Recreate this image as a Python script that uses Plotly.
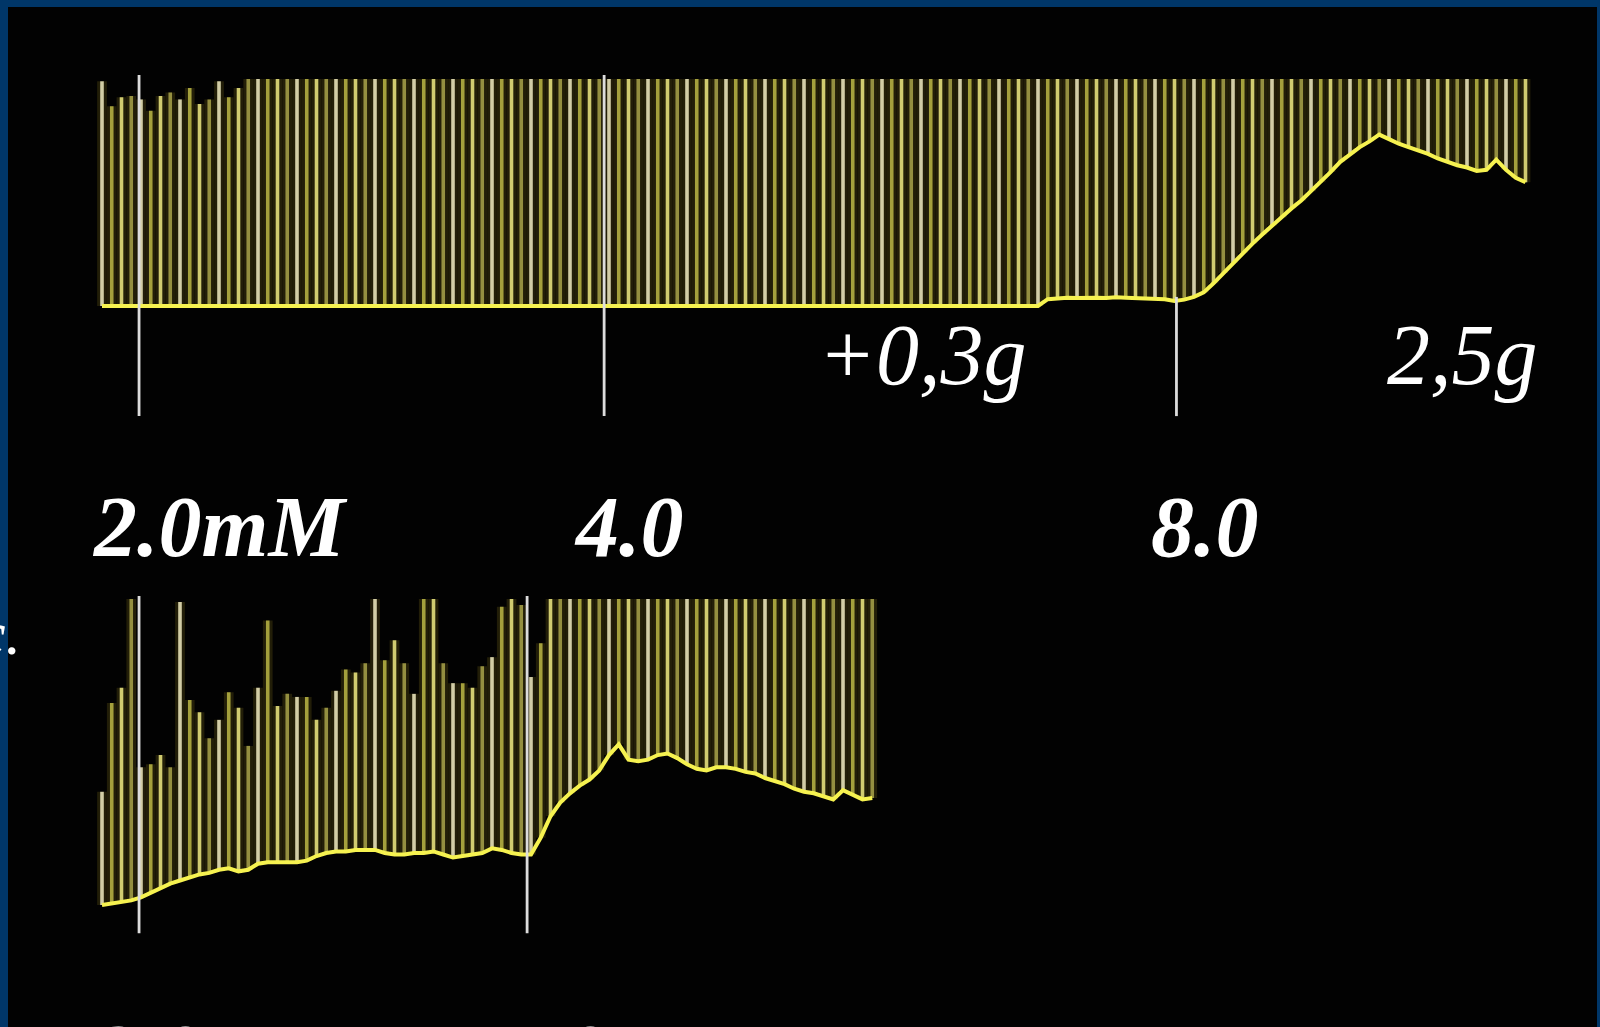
import plotly.graph_objects as go

# ---------------- data ----------------
# Top record: twitch peaks (pen saturates at 100) and resting tension (baseline)
top_peak = [
    99, 88, 92, 92.5, 91, 86, 92.5, 94, 91, 96, 89, 91, 99, 92, 96,
    100, 100, 100, 100, 100, 100, 100, 100, 100, 100, 100, 100,
    100, 100, 100, 100, 100, 100, 100, 100, 100, 100, 100, 100,
    100, 100, 100, 100, 100, 100, 100, 100, 100, 100, 100, 100,
    100, 100, 100, 100, 100, 100, 100, 100, 100, 100, 100, 100,
    100, 100, 100, 100, 100, 100, 100, 100, 100, 100, 100, 100,
    100, 100, 100, 100, 100, 100, 100, 100, 100, 100, 100, 100,
    100, 100, 100, 100, 100, 100, 100, 100, 100, 100, 100, 100,
    100, 100, 100, 100, 100, 100, 100, 100, 100, 100, 100, 100,
    100, 100, 100, 100, 100, 100, 100, 100, 100, 100, 100, 100,
    100, 100, 100, 100, 100, 100, 100, 100, 100, 100, 100, 100,
    100, 100, 100, 100, 100, 100, 100, 100, 100, 100, 100, 100,
]
top_base = [
    0, 0, 0, 0, 0, 0, 0, 0, 0, 0,
    0, 0, 0, 0, 0, 0, 0, 0, 0, 0,
    0, 0, 0, 0, 0, 0, 0, 0, 0, 0,
    0, 0, 0, 0, 0, 0, 0, 0, 0, 0,
    0, 0, 0, 0, 0, 0, 0, 0, 0, 0,
    0, 0, 0, 0, 0, 0, 0, 0, 0, 0,
    0, 0, 0, 0, 0, 0, 0, 0, 0, 0,
    0, 0, 0, 0, 0, 0, 0, 0, 0, 0,
    0, 0, 0, 0, 0, 0, 0, 0, 0, 0,
    0, 0, 0, 0, 0, 0, 0,
    3.0, 3.5, 3.6, 3.5, 3.7, 3.6, 3.5, 3.8, 3.6, 3.5,
    3.4, 3.5, 3.0, 2.2, 2.8, 4.0, 6.0, 10.0, 14.5, 19.0,
    23.5, 27.5, 31.5, 35.5, 39.0, 43.0, 46.5, 50.5, 54.5, 59.0,
    63.5, 67.0, 70.0, 72.5, 75.5, 73.5, 71.5, 70.0, 68.5, 67.0,
    65.0, 63.5, 62.0, 61.0, 59.5, 60.0, 64.5, 60.0, 56.5, 54.5,
]

# Bottom record
bot_peak = [
    37, 66, 71, 100, 45, 46, 49, 45, 99, 67,
    63, 54.5, 60.5, 69.5, 64.5, 52, 71, 93, 65, 69,
    68, 68, 60.5, 64.5, 70, 77, 76, 79, 100, 80,
    86.5, 79, 69, 100, 100, 79, 72.5, 72.5, 71, 78,
    81, 97.5, 100, 98, 74.5, 85.5, 100, 100, 100, 100,
    100, 100, 100, 100, 100, 100, 100, 100, 100, 100,
    100, 100, 100, 100, 100, 100, 100, 100, 100, 100,
    100, 100, 100, 100, 100, 100, 100, 100, 100, 100,
]
bot_base = [
    0, 0.5, 1, 1.5, 2.5, 4, 5.5, 7, 8, 9,
    10, 10.5, 11.5, 12, 11, 11.5, 13.5, 14, 14, 14,
    14, 14.5, 16, 17, 17.5, 17.5, 18, 18, 18, 17,
    16.5, 16.5, 17, 17, 17.5, 16.5, 15.5, 16, 16.5, 17,
    18.5, 18, 17, 16.5, 16.5, 22, 29, 33.5, 36.5, 39,
    41, 44, 49, 52.5, 47.5, 47, 47.5, 49, 49.5, 48,
    46, 44.5, 44, 45, 45, 44.5, 43.5, 43, 41.5, 40.5,
    39.5, 38, 37, 36.5, 35.5, 34.5, 37.5, 36, 34.5, 35,
]

# Stimulus / addition markers (twitch-index position, upper and lower end)
top_event_x = [3.8, 51.5, 110.2]
top_event_top = [101.8, 101.8, 4.0]
top_event_bottom = [-48.5, -48.5, -48.5]
bot_event_x = [3.8, 43.6]
bot_event_top = [101.0, 101.0]
bot_event_bottom = [-9.2, -9.2]

conc_labels = ["2.0mM", "4.0", "8.0"]
load_labels = ["+0,3g", "2,5g"]
bottom_labels = ["2.0mM", "4.0"]

# ---------------- layout / style ----------------
W, H = 1600, 1027
PX0, STEP = 102, 9.75          # pixel of twitch 0, pixels per twitch
Y0_TOP, K_TOP = 306, 2.27       # baseline pixel, pixels per unit (top record)
Y0_BOT, K_BOT = 905, 3.06       # bottom record
BLUE = "#003668"
BAR_COLORS = ["#d2cda6", "#a4a03c", "#d0cb70", "#948f40"]
GAP_COLOR = "#221e08"
ENV_COLOR = "#f6f250"
EVENT_COLOR = "#dcdcdc"
FONT = "Liberation Serif, Times New Roman, serif"

fig = go.Figure()


def add_record(peaks, bases, yaxis):
    n = min(len(peaks), len(bases))
    xs = list(range(n))
    heights = [peaks[i] - bases[i] for i in range(n)]
    cols = [BAR_COLORS[i % len(BAR_COLORS)] for i in range(n)]
    fig.add_trace(go.Bar(x=xs, y=heights, base=bases[:n], width=1.0,
                         marker=dict(color=GAP_COLOR, line=dict(width=0)),
                         yaxis=yaxis, hoverinfo="skip", showlegend=False))
    fig.add_trace(go.Bar(x=xs, y=heights, base=bases[:n], width=0.37,
                         marker=dict(color=cols, line=dict(width=0)),
                         yaxis=yaxis, hoverinfo="skip", showlegend=False))
    fig.add_trace(go.Scatter(x=xs, y=bases[:n], mode="lines",
                             line=dict(color=ENV_COLOR, width=4),
                             yaxis=yaxis, hoverinfo="skip", showlegend=False))


def add_events(xs, tops, bottoms, yaxis):
    ex, ey = [], []
    for x, t, b in zip(xs, tops, bottoms):
        ex += [x, x, None]
        ey += [t, b, None]
    fig.add_trace(go.Scatter(x=ex, y=ey, mode="lines",
                             line=dict(color=EVENT_COLOR, width=2.8),
                             yaxis=yaxis, hoverinfo="skip", showlegend=False))


add_record(top_peak, top_base, "y")
add_events(top_event_x, top_event_top, top_event_bottom, "y")
add_record(bot_peak, bot_base, "y2")
add_events(bot_event_x, bot_event_top, bot_event_bottom, "y2")


def px_x(p):
    return p / W


def px_y(p):
    return 1 - p / H


annotations = []
# load labels (italic)
for txt, cx in zip(load_labels, [922, 1462]):
    annotations.append(dict(text=txt, x=px_x(cx), y=px_y(355), xref="paper", yref="paper",
                            xanchor="center", yanchor="middle", showarrow=False,
                            font=dict(family=FONT, size=86, color="white", style="italic")))
# concentration labels (bold italic)
for txt, cx in zip(conc_labels, [219, 629, 1205]):
    annotations.append(dict(text=txt, x=px_x(cx), y=px_y(527), xref="paper", yref="paper",
                            xanchor="center", yanchor="middle", showarrow=False,
                            font=dict(family=FONT, size=86, color="white",
                                      style="italic", weight="bold")))
# labels of the lower record, cut off by the picture edge
for txt, cx in zip(bottom_labels, [219, 552]):
    annotations.append(dict(text=txt, x=px_x(cx), y=px_y(1055), xref="paper", yref="paper",
                            xanchor="center", yanchor="middle", showarrow=False,
                            font=dict(family=FONT, size=86, color="white",
                                      style="italic", weight="bold")))
# fragment of slide text at the left edge
annotations.append(dict(text="c.", x=px_x(23), y=px_y(633), xref="paper", yref="paper",
                        xanchor="right", yanchor="middle", showarrow=False,
                        font=dict(family=FONT, size=62, color="white", style="italic")))

shapes = [
    dict(type="rect", xref="paper", yref="paper", x0=0, x1=1, y0=px_y(7), y1=1,
         fillcolor=BLUE, line=dict(width=0), layer="above"),
    dict(type="rect", xref="paper", yref="paper", x0=0, x1=px_x(8), y0=0, y1=1,
         fillcolor=BLUE, line=dict(width=0), layer="above"),
    dict(type="rect", xref="paper", yref="paper", x0=px_x(1597), x1=1, y0=0, y1=1,
         fillcolor=BLUE, line=dict(width=0), layer="above"),
]

fig.update_layout(
    width=W, height=H,
    margin=dict(l=0, r=0, t=0, b=0, pad=0),
    paper_bgcolor="#020202", plot_bgcolor="#020202",
    barmode="overlay",
    showlegend=False,
    xaxis=dict(range=[(0 - PX0) / STEP, (W - PX0) / STEP], domain=[0, 1],
               visible=False, fixedrange=True),
    yaxis=dict(range=[(Y0_TOP - H) / K_TOP, Y0_TOP / K_TOP], domain=[0, 1],
               visible=False, fixedrange=True),
    yaxis2=dict(range=[(Y0_BOT - H) / K_BOT, Y0_BOT / K_BOT], overlaying="y",
                visible=False, fixedrange=True),
    annotations=annotations,
    shapes=shapes,
    hovermode=False,
)

fig.write_html("out.html", config={"displayModeBar": False})
